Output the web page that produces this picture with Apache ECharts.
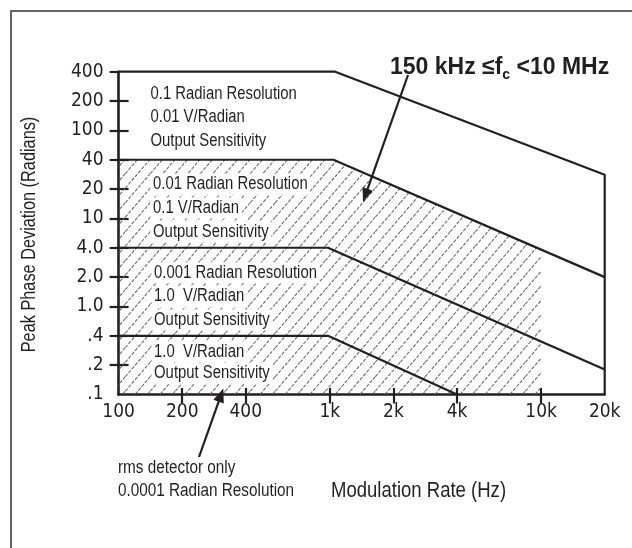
<!DOCTYPE html>
<html><head><meta charset="utf-8">
<script src="https://cdn.jsdelivr.net/npm/echarts@6/dist/echarts.min.js"></script>
<style>html,body{margin:0;padding:0;background:#fff}#c{width:632px;height:548px}</style>
</head><body><div id="c"></div>
<script>
// ---------- data ----------
const yTickValues = [0.1, 0.2, 0.4, 1, 2, 4, 10, 20, 40, 100, 200, 400];
const yTickLabels = ['.1', '.2', '.4', '1.0', '2.0', '4.0', '10', '20', '40', '100', '200', '400'];
const xTickValues = [100, 200, 400, 1000, 2000, 4000, 10000, 20000];
const xTickLabels = ['100', '200', '400', '1k', '2k', '4k', '10k', '20k'];

// boundary lines: [modulation rate Hz, peak phase deviation rad]
const line400 = [[100, 400], [1060, 400], [20000, 28], [20000, 0.1]];
const line40  = [[100, 40], [1040, 40], [20000, 2.0]];
const line4   = [[100, 4], [980, 4], [20000, 0.18]];
const line04  = [[100, 0.4], [980, 0.4], [4000, 0.1]];
const hatchArea = [[100, 40], [1040, 40], [10000, 3.83]];

const titleText = ['150 kHz \u2264f', 'c', ' <10 MHz'];
const xName = 'Modulation Rate (Hz)';
const yName = 'Peak Phase Deviation (Radians)';
const group1 = ['0.1 Radian Resolution', '0.01 V/Radian', 'Output Sensitivity'];
const group2 = ['0.01 Radian Resolution', '0.1 V/Radian', 'Output Sensitivity'];
const group3 = ['0.001 Radian Resolution', '1.0  V/Radian', 'Output Sensitivity'];
const group4 = ['1.0  V/Radian', 'Output Sensitivity'];
const rmsNote = ['rms detector only', '0.0001 Radian Resolution'];

// ---------- scales (chart's schematic y spacing: equal steps between tick values) ----------
function yPos(v) {
  const t = yTickValues;
  for (let i = 0; i < t.length - 1; i++) {
    if (v <= t[i + 1]) return i + Math.log(v / t[i]) / Math.log(t[i + 1] / t[i]);
  }
  return t.length - 1;
}
function xPos(f) { return Math.log10(f); }
const toXY = arr => arr.map(p => [xPos(p[0]), yPos(p[1])]);

// ---------- styling ----------
const INK = '#231f20';
const TICKFONT = '"DejaVu Sans Condensed", "Liberation Sans", sans-serif';
const FONT = '"Liberation Sans", Arial, sans-serif';
const SX = 0.85; // condensed look

function makeHatch() {
  const W = 12.5, H = 14.5;
  const c = document.createElement('canvas'); c.width = 25; c.height = 29;
  const g = c.getContext('2d');
  g.strokeStyle = '#6a6a6a'; g.lineWidth = 1.1; g.setLineDash([3.5, 1.5]);
  // lines x/W + y/H = k
  for (let k = 0; k <= 4; k++) {
    g.beginPath();
    g.moveTo(-3, H * k + 3 * H / W);
    g.lineTo(2 * W + 3, H * (k - 2) - 3 * H / W);
    g.stroke();
  }
  return c;
}
const hatch = makeHatch();

function arrowEls(x1, y1, x2, y2) {
  const dx = x2 - x1, dy = y2 - y1, L = Math.hypot(dx, dy), ux = dx / L, uy = dy / L;
  const hl = 14, hw = 5.5;
  const bx = x2 - ux * hl, by = y2 - uy * hl;
  return [
    { type: 'line', shape: { x1: x1, y1: y1, x2: bx + ux * 2, y2: by + uy * 2 }, style: { stroke: INK, lineWidth: 2.2 }, z: 20 },
    { type: 'polygon', shape: { points: [[x2, y2], [bx - uy * hw, by + ux * hw], [bx + uy * hw, by - ux * hw]] }, style: { fill: INK }, z: 20 }
  ];
}
function textEl(t, x, y, size, bg, rot, sx) {
  return {
    type: 'text', z: 10, x: x, y: y, scaleX: sx || SX, rotation: rot || 0,
    style: {
      text: t, x: 0, y: 0, fill: INK, font: size + 'px ' + FONT,
      verticalAlign: 'middle', textVerticalAlign: 'middle',
      align: rot ? 'center' : 'left', textAlign: rot ? 'center' : 'left',
      backgroundColor: bg ? '#ffffff' : null, padding: bg ? [2, 3, 1, 3] : 0
    }
  };
}
function noteLines(lines, x, y0, step, bg) {
  return lines.map((t, i) => textEl(t, x, y0 + i * step, 17.5, bg));
}

const gridL = 118.6, gridR = 604.7, gridT = 71.7, gridB = 394.5;
const chart = echarts.init(document.getElementById('c'), null, { renderer: 'canvas' });

const xTickPos = xTickValues.slice(1, -1).map(v => xPos(v));
const yTickIdx = yTickValues.map((v, i) => i).slice(1);

function xLabel(v) {
  for (let i = 0; i < xTickValues.length; i++) if (Math.abs(xPos(xTickValues[i]) - v) < 1e-6) return xTickLabels[i];
  return '';
}

const option = {
  animation: false,
  backgroundColor: '#ffffff',
  title: {
    text: '{a|' + titleText[0] + '}{s|' + titleText[1] + '}{a|' + titleText[2] + '}',
    left: 390, top: 54, padding: 0,
    textStyle: {
      rich: {
        a: { fontFamily: FONT, fontWeight: 'bold', fontSize: 23, color: INK, lineHeight: 28 },
        s: { fontFamily: FONT, fontWeight: 'bold', fontSize: 14, color: INK, lineHeight: 10, verticalAlign: 'bottom' }
      }
    }
  },
  grid: { left: gridL, right: 632 - gridR, top: gridT, bottom: 548 - gridB, containLabel: false, outerBoundsMode: 'none' },
  xAxis: [
    {
      type: 'value', min: xPos(xTickValues[0]), max: xPos(xTickValues[xTickValues.length - 1]), position: 'bottom',
      axisLine: { show: true, onZero: false, lineStyle: { color: INK, width: 2.6 } },
      axisTick: { show: true, inside: false, length: 9, customValues: xTickPos, lineStyle: { color: INK, width: 2.2 } },
      axisLabel: { show: true, customValues: xTickValues.map(v => xPos(v)), formatter: xLabel, margin: 8, color: INK, fontFamily: TICKFONT, fontSize: 19 },
      splitLine: { show: false }
    },
    {
      type: 'value', min: xPos(xTickValues[0]), max: xPos(xTickValues[xTickValues.length - 1]), position: 'bottom',
      axisLine: { show: false, onZero: false },
      axisTick: { show: true, inside: true, length: 6.5, customValues: xTickPos, lineStyle: { color: INK, width: 2.2 } },
      axisLabel: { show: false }, splitLine: { show: false }
    }
  ],
  yAxis: [
    {
      type: 'value', min: 0, max: yTickValues.length - 1, interval: 1, position: 'left',
      axisLine: { show: true, onZero: false, lineStyle: { color: INK, width: 2.6 } },
      axisTick: { show: true, inside: false, length: 9, customValues: yTickIdx, lineStyle: { color: INK, width: 2.2 } },
      axisLabel: { show: true, margin: 15, formatter: v => yTickLabels[Math.round(v)], color: INK, fontFamily: TICKFONT, fontSize: 19 },
      splitLine: { show: false }
    },
    {
      type: 'value', min: 0, max: yTickValues.length - 1, interval: 1, position: 'left',
      axisLine: { show: false, onZero: false },
      axisTick: { show: true, inside: true, length: 10, customValues: yTickIdx.slice(0, -1), lineStyle: { color: INK, width: 2.2 } },
      axisLabel: { show: false }, splitLine: { show: false }
    }
  ],
  series: [
    {
      type: 'line', data: toXY(hatchArea), symbol: 'none', silent: true, clip: false, z: 1,
      lineStyle: { width: 0, opacity: 0 },
      areaStyle: { color: { image: hatch, repeat: 'repeat' }, opacity: 1 }
    }
  ].concat([line400, line40, line4, line04].map(d => ({
    type: 'line', data: toXY(d), symbol: 'none', silent: true, clip: false, z: 3,
    lineStyle: { color: INK, width: 2.2 }
  }))),
  graphic: {
    elements: [
      { type: 'rect', shape: { x: 11, y: 11, width: 700, height: 700 }, style: { fill: 'none', stroke: '#333333', lineWidth: 1.5 }, z: 0, silent: true },
      textEl(xName, 331, 491, 21.8, false),
      textEl(yName, 29.5, 234.5, 20.5, false, Math.PI / 2, 0.795)
    ]
      .concat(noteLines(group1, 150.5, 94.3, 23.2, false))
      .concat(noteLines(group2, 150.5, 184.3, 23.7, true))
      .concat(noteLines(group3, 151.5, 272.7, 23.7, true))
      .concat(noteLines(group4, 151.5, 351.7, 21.6, true))
      .concat([textEl(rmsNote[0], 118, 468, 18, false), textEl(rmsNote[1], 118, 490.7, 18, false)])
      .concat(arrowEls(408, 75, 363, 202))
      .concat(arrowEls(199, 457, 223.3, 388.5))
  }
};
chart.setOption(option);
</script>
</body></html>
